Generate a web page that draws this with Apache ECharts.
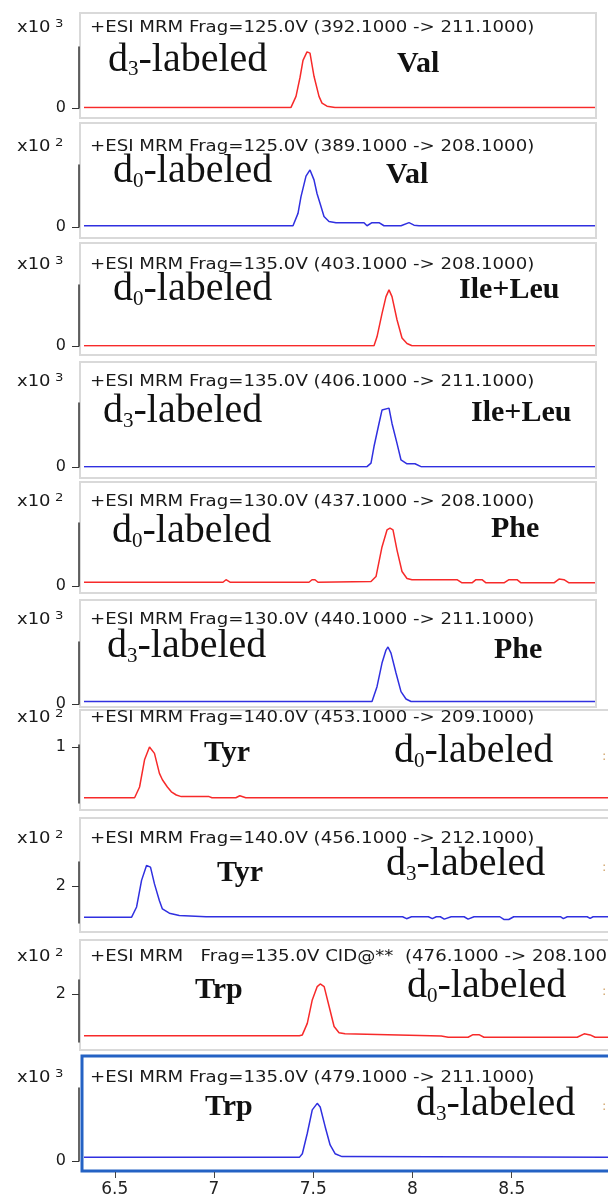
<!DOCTYPE html>
<html>
<head>
<meta charset="utf-8">
<script src="https://cdn.jsdelivr.net/npm/echarts@6/dist/echarts.min.js"></script>
<style>
html, body {margin: 0; padding: 0; background: #fff;}
#main {width: 608px; height: 1198px;}
</style>
</head>
<body>
<div id="main"></div>
<script>
// MRM chromatograms: [retention time (min), intensity in the panel's x10^n unit]
var valD3 = [[6.345,0.01],[7.38,0.01],[7.405,0.19],[7.425,0.5],[7.44,0.78],[7.46,0.92],[7.475,0.9],[7.495,0.52],[7.52,0.19],[7.535,0.08],[7.56,0.03],[7.6,0.01],[8.9,0.01]];
var valD0 = [[6.345,0.02],[7.39,0.02],[7.415,0.22],[7.43,0.49],[7.455,0.82],[7.475,0.92],[7.495,0.76],[7.51,0.54],[7.53,0.33],[7.545,0.17],[7.57,0.09],[7.605,0.07],[7.745,0.07],[7.76,0.02],[7.785,0.07],[7.82,0.07],[7.845,0.02],[7.93,0.02],[7.97,0.07],[7.995,0.03],[8.02,0.02],[8.9,0.02]];
var ileD0 = [[6.345,0.005],[7.795,0.005],[7.81,0.15],[7.835,0.53],[7.855,0.81],[7.87,0.92],[7.885,0.81],[7.91,0.43],[7.935,0.13],[7.96,0.04],[7.985,0.005],[8.9,0.005]];
var ileD3 = [[6.345,0.005],[7.76,0.005],[7.78,0.06],[7.795,0.32],[7.82,0.68],[7.835,0.89],[7.845,0.92],[7.87,0.92],[7.885,0.68],[7.91,0.37],[7.93,0.11],[7.96,0.05],[8.0,0.05],[8.03,0.005],[8.9,0.005]];
var pheD0 = [[6.345,0.06],[7.04,0.06],[7.055,0.1],[7.075,0.06],[7.47,0.06],[7.485,0.1],[7.5,0.1],[7.515,0.06],[7.78,0.07],[7.805,0.15],[7.835,0.62],[7.86,0.89],[7.875,0.92],[7.89,0.89],[7.91,0.57],[7.935,0.23],[7.96,0.12],[7.985,0.1],[8.21,0.1],[8.235,0.05],[8.285,0.05],[8.305,0.1],[8.335,0.1],[8.355,0.05],[8.445,0.05],[8.47,0.1],[8.51,0.1],[8.53,0.05],[8.695,0.05],[8.72,0.11],[8.745,0.1],[8.77,0.05],[8.9,0.05]];
var pheD3 = [[6.345,0.04],[7.785,0.04],[7.81,0.28],[7.835,0.66],[7.855,0.87],[7.865,0.92],[7.88,0.82],[7.905,0.5],[7.93,0.2],[7.955,0.08],[7.98,0.04],[8.9,0.04]];
var tyrD0 = [[6.345,0.366],[6.6,0.366],[6.625,0.5],[6.65,0.84],[6.675,1.0],[6.7,0.92],[6.725,0.67],[6.74,0.59],[6.765,0.5],[6.785,0.44],[6.81,0.4],[6.835,0.38],[6.975,0.38],[6.99,0.366],[7.11,0.366],[7.13,0.39],[7.16,0.366],[8.985,0.366]];
var tyrD3 = [[6.345,1.2],[6.585,1.2],[6.61,1.46],[6.635,2.14],[6.66,2.52],[6.68,2.48],[6.7,2.05],[6.725,1.62],[6.74,1.41],[6.775,1.3],[6.825,1.24],[6.96,1.21],[7.95,1.21],[7.97,1.16],[7.995,1.21],[8.08,1.21],[8.1,1.16],[8.12,1.21],[8.14,1.21],[8.16,1.15],[8.195,1.21],[8.26,1.21],[8.28,1.15],[8.31,1.21],[8.44,1.21],[8.46,1.14],[8.485,1.14],[8.51,1.21],[8.745,1.21],[8.76,1.16],[8.78,1.21],[8.88,1.21],[8.895,1.17],[8.91,1.21],[8.985,1.21]];
var trpD0 = [[6.345,1.205],[7.43,1.205],[7.445,1.22],[7.47,1.44],[7.495,1.885],[7.52,2.14],[7.535,2.19],[7.555,2.14],[7.58,1.76],[7.605,1.38],[7.63,1.26],[7.66,1.24],[8.145,1.2],[8.18,1.175],[8.28,1.175],[8.305,1.225],[8.335,1.225],[8.36,1.175],[8.83,1.175],[8.865,1.24],[8.895,1.22],[8.92,1.175],[8.985,1.175]];
var trpD3 = [[6.345,0.05],[7.43,0.05],[7.445,0.1],[7.47,0.38],[7.495,0.7],[7.52,0.79],[7.535,0.74],[7.56,0.47],[7.585,0.22],[7.61,0.1],[7.645,0.06],[8.985,0.05]];

var titles = [
	'+ESI MRM Frag=125.0V (392.1000 -> 211.1000)',
	'+ESI MRM Frag=125.0V (389.1000 -> 208.1000)',
	'+ESI MRM Frag=135.0V (403.1000 -> 208.1000)',
	'+ESI MRM Frag=135.0V (406.1000 -> 211.1000)',
	'+ESI MRM Frag=130.0V (437.1000 -> 208.1000)',
	'+ESI MRM Frag=130.0V (440.1000 -> 211.1000)',
	'+ESI MRM Frag=140.0V (453.1000 -> 209.1000)',
	'+ESI MRM Frag=140.0V (456.1000 -> 212.1000)',
	'+ESI MRM   Frag=135.0V CID@**  (476.1000 -> 208.1000)',
	'+ESI MRM Frag=135.0V (479.1000 -> 211.1000)'
];
var exponents = ['3', '2', '3', '3', '2', '3', '2', '2', '2', '3'];
var isotopes = ['3', '0', '0', '3', '0', '3', '0', '3', '0', '3'];
var acids = ['Val', 'Val', 'Ile+Leu', 'Ile+Leu', 'Phe', 'Phe', 'Tyr', 'Tyr', 'Trp', 'Trp'];
var yTicks = [[0], [0], [0], [0], [0], [0], [1], [2], [2], [0]];
var xTicks = [6.5, 7, 7.5, 8, 8.5];

var RED = '#f72a2a', BLUE = '#3030e0';
var X_MIN = 6.345;

// layout of each panel (pixels)
var panels = [
	{data: valD3, color: RED,  box: [80, 13, 516, 105],  top: 47,   height: 61, width: 511, xMax: 8.9,   yMin: 0,     yMax: 1,     row: 28,   tag: [108, 40],    acid: [397, 49]},
	{data: valD0, color: BLUE, box: [80, 123, 516, 115], top: 165,  height: 62, width: 511, xMax: 8.9,   yMin: 0,     yMax: 1,     row: 147,  tag: [113, 151.5], acid: [386, 160]},
	{data: ileD0, color: RED,  box: [80, 243, 516, 112], top: 285,  height: 61, width: 511, xMax: 8.9,   yMin: 0,     yMax: 1,     row: 265,  tag: [113, 269.5], acid: [459, 275]},
	{data: ileD3, color: BLUE, box: [80, 362, 516, 116], top: 403,  height: 64, width: 511, xMax: 8.9,   yMin: 0,     yMax: 1,     row: 382,  tag: [103, 391.5], acid: [471, 398]},
	{data: pheD0, color: RED,  box: [80, 482, 516, 111], top: 523,  height: 63, width: 511, xMax: 8.9,   yMin: 0,     yMax: 1,     row: 502,  tag: [112, 511.5], acid: [491, 514]},
	{data: pheD3, color: BLUE, box: [80, 600, 516, 107], top: 642,  height: 62, width: 511, xMax: 8.9,   yMin: 0,     yMax: 1,     row: 620,  tag: [107, 626.5], acid: [494, 635]},
	{data: tyrD0, color: RED,  box: [80, 710, 540, 100], top: 745,  height: 58, width: 528, xMax: 8.985, yMin: 0.3,   yMax: 1.025, row: 718,  tag: [394, 731.5], acid: [204, 738],  mark: 757},
	{data: tyrD3, color: BLUE, box: [80, 818, 540, 114], top: 862,  height: 61, width: 528, xMax: 8.985, yMin: 1.05,  yMax: 2.61,  row: 839,  tag: [386, 844.5], acid: [217, 858],  mark: 868},
	{data: trpD0, color: RED,  box: [80, 940, 540, 110], top: 980,  height: 62, width: 528, xMax: 8.985, yMin: 1.085, yMax: 2.265, row: 957,  tag: [407, 966.5], acid: [195, 975],  mark: 992},
	{data: trpD3, color: BLUE, box: [82, 1056, 540, 115], top: 1088, height: 73, width: 528, xMax: 8.985, yMin: 0,     yMax: 1,     row: 1078, tag: [416, 1084.5], acid: [205, 1092], mark: 1107}
];

var SANS = 'DejaVu Sans', SERIF = 'Liberation Serif';
var option = {animation: false, backgroundColor: '#fff', grid: [], xAxis: [], yAxis: [], series: [], graphic: []};

panels.forEach(function(p, i) {
	var last = i == panels.length - 1;
	option.grid.push({left: 84, top: p.top, width: p.width, height: p.height, containLabel: false});
	option.xAxis.push({
		gridIndex: i, type: 'value', min: X_MIN, max: p.xMax, show: last, offset: 11,
		axisLine: {show: false, onZero: false},
		splitLine: {show: false},
		axisTick: {show: true, customValues: xTicks, length: 6, lineStyle: {color: '#444'}},
		axisLabel: {customValues: xTicks, fontSize: 17, fontFamily: SANS, color: '#222', margin: 9}
	});
	option.yAxis.push({
		gridIndex: i, type: 'value', min: p.yMin, max: p.yMax, offset: 5,
		axisLine: {show: true, onZero: false, lineStyle: {color: '#333', width: 1.5}},
		splitLine: {show: false},
		axisTick: {show: true, customValues: yTicks[i], length: 7, lineStyle: {color: '#333'}},
		axisLabel: {customValues: yTicks[i], showMinLabel: true, showMaxLabel: true, fontSize: 16, fontFamily: SANS, color: '#1a1a1a', margin: 13}
	});
	option.series.push({
		type: 'line', xAxisIndex: i, yAxisIndex: i, data: p.data,
		symbol: 'none', showSymbol: false, silent: true,
		lineStyle: {color: p.color, width: 1.5}, itemStyle: {color: p.color}
	});

	// panel frame
	option.graphic.push({
		type: 'rect', z: -1, silent: true,
		shape: {x: p.box[0], y: p.box[1], width: p.box[2], height: p.box[3]},
		style: last ? {fill: '#fff', stroke: '#2462c4', lineWidth: 3} : {fill: '#fff', stroke: '#d9d9d9', lineWidth: 2}
	});
	// x10^n
	option.graphic.push({
		type: 'text', z: 10, silent: true, x: 17, y: p.row, scaleX: 1.2,
		style: {text: 'x10', fontSize: 15, fontFamily: SANS, fill: '#1a1a1a', align: 'left', verticalAlign: 'middle'}
	});
	option.graphic.push({
		type: 'text', z: 10, silent: true, x: 55, y: p.row - 3.5, scaleX: 1.2,
		style: {text: exponents[i], fontSize: 11, fontFamily: SANS, fill: '#1a1a1a', align: 'left', verticalAlign: 'middle'}
	});
	// transition title
	option.graphic.push({
		type: 'text', z: 10, silent: true, x: 90, y: p.row, scaleX: 1.21,
		style: {text: titles[i], fontSize: 15, fontFamily: SANS, fill: '#1a1a1a', align: 'left', verticalAlign: 'middle'}
	});
	// d0 / d3 label
	option.graphic.push({
		type: 'text', z: 10, silent: true, x: p.tag[0], y: p.tag[1],
		style: {
			text: '{a|d}{s|' + isotopes[i] + '}{a|-labeled}',
			align: 'left', verticalAlign: 'top',
			rich: {
				a: {fontSize: 40, fontFamily: SERIF, lineHeight: 40, verticalAlign: 'middle', fill: '#111'},
				s: {fontSize: 21, fontFamily: SERIF, lineHeight: 9, verticalAlign: 'bottom', fill: '#111'}
			}
		}
	});
	// amino acid
	option.graphic.push({
		type: 'text', z: 10, silent: true, x: p.acid[0], y: p.acid[1],
		style: {text: acids[i], fontSize: 30, fontWeight: 'bold', fontFamily: SERIF, lineHeight: 30, fill: '#111', align: 'left', verticalAlign: 'top'}
	});
	// clipped mark at the right edge of the lower panels
	if (p.mark) {
		option.graphic.push({
			type: 'text', z: 10, silent: true, x: 602, y: p.mark,
			style: {text: ':', fontSize: 13, fontFamily: SANS, fill: '#d2a56c', align: 'left', verticalAlign: 'middle'}
		});
	}
});

var chart = echarts.init(document.getElementById('main'), null, {renderer: 'canvas'});
chart.setOption(option);
</script>
</body>
</html>
